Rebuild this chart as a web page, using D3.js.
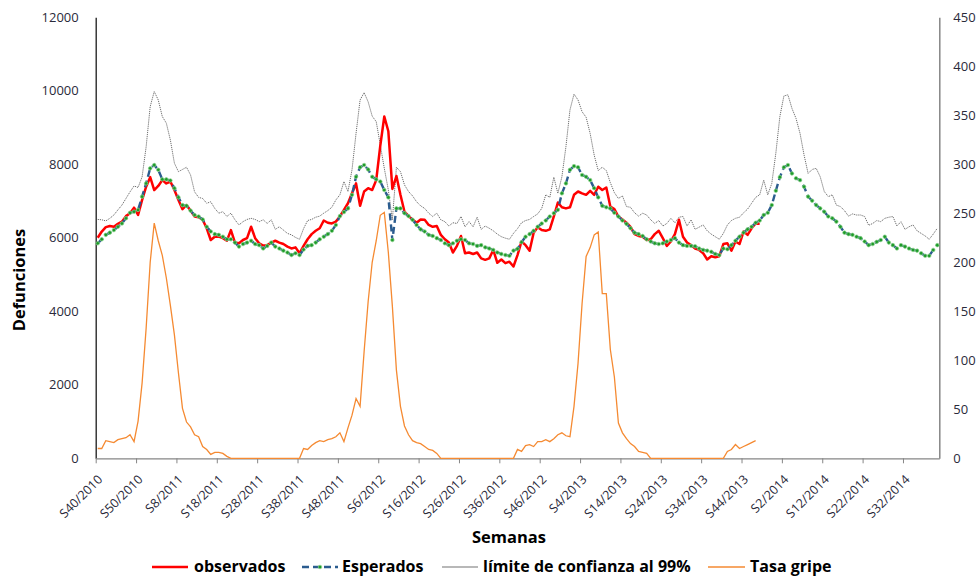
<!DOCTYPE html>
<html>
<head>
<meta charset="utf-8">
<script src="https://cdn.jsdelivr.net/npm/d3@7"></script>
<style>
  body { margin: 0; background: #ffffff; }
  svg { display: block; }
  text { font-family: "Open Sans", Lato, sans-serif; }
</style>
</head>
<body>
<svg id="chart" width="978" height="577"></svg>
<script>
// Weekly categories: S40/2010 ... S40/2014 (52-week years)
const weeks = [];
{
  let w = 40, yr = 2010;
  for (let i = 0; i < 209; i++) {
    weeks.push("S" + w + "/" + yr);
    w++;
    if (w > 52) { w = 1; yr++; }
  }
}

const xTickLabels = ["S40/2010","S50/2010","S8/2011","S18/2011","S28/2011","S38/2011","S48/2011",
  "S6/2012","S16/2012","S26/2012","S36/2012","S46/2012","S4/2013","S14/2013","S24/2013",
  "S34/2013","S44/2013","S2/2014","S12/2014","S22/2014","S32/2014"];
const leftTicks = [0, 2000, 4000, 6000, 8000, 10000, 12000];
const rightTicks = [0, 50, 100, 150, 200, 250, 300, 350, 400, 450];

// Defunciones observadas
const observados = [
  6000,6170,6290,6320,6300,6380,6440,6590,6670,6820,
  6620,7030,7390,7650,7300,7410,7570,7480,7530,7300,
  7030,6780,6890,6740,6580,6560,6490,6260,5940,6030,
  6030,5990,5920,6210,5870,5850,5940,5990,6300,5990,
  5850,5790,5800,5870,5920,5870,5830,5760,5710,5740,
  5580,5780,5960,6100,6190,6260,6470,6410,6390,6440,
  6580,6760,6940,7210,7480,6870,7260,7350,7300,7570,
  8500,9300,8900,7330,7680,7170,6710,6590,6500,6410,
  6500,6490,6350,6300,6320,6080,5960,5870,5600,5780,
  6050,5580,5600,5560,5600,5440,5400,5440,5670,5320,
  5410,5310,5350,5220,5530,5900,5800,5650,6140,6290,
  6210,6190,6230,6580,6960,6830,6800,6830,7170,7260,
  7210,7170,7280,7170,7390,7300,7370,6850,6780,6580,
  6500,6410,6300,6100,6050,6030,5940,5960,6100,6190,
  5990,5780,5900,6100,6490,6030,5870,5800,5710,5670,
  5580,5410,5500,5470,5500,5830,5850,5650,5900,5830,
  6170,6080,6260,6390,6380
];

// Defunciones esperadas
const esperados = [
  5850,5960,6080,6140,6210,6300,6390,6530,6680,6710,
  6760,7120,7480,7890,7980,7850,7590,7590,7560,7350,
  7100,6890,6870,6740,6620,6580,6500,6300,6170,6100,
  6080,6030,5960,5960,5870,5760,5830,5870,5920,5830,
  5800,5710,5780,5870,5760,5710,5650,5600,5530,5580,
  5530,5680,5780,5800,5870,5960,6030,6100,6190,6350,
  6590,6700,6800,7170,7660,7920,7980,7860,7660,7590,
  7530,7300,7100,5940,6800,6800,6670,6590,6490,6350,
  6230,6170,6080,6050,5990,5940,5850,5800,5850,5920,
  5960,5940,5850,5830,5780,5800,5740,5710,5670,5600,
  5560,5530,5510,5650,5700,5880,6030,6100,6190,6300,
  6390,6470,6580,6670,6760,7210,7480,7850,7950,7920,
  7710,7660,7570,7350,7100,6870,6830,6800,6680,6580,
  6470,6380,6260,6140,6100,6050,5960,5900,5850,5830,
  5850,5900,5940,5990,5870,5800,5780,5780,5770,5710,
  5670,5650,5620,5560,5530,5710,5690,5800,5920,6030,
  6140,6230,6300,6410,6470,6620,6680,6890,7280,7650,
  7920,7980,7750,7620,7570,7390,7120,7010,6890,6800,
  6710,6580,6530,6440,6300,6140,6100,6080,6030,5990,
  5900,5800,5830,5890,5940,6030,5870,5800,5710,5800,
  5760,5710,5670,5650,5580,5510,5510,5670,5800
];

// Límite superior de confianza al 99%
const limite99 = [
  6500,6490,6460,6530,6620,6760,6890,7070,7250,7410,
  7370,7660,8480,9570,9980,9750,9300,9120,8660,8030,
  7800,7860,7920,7710,7250,7100,7070,6940,6980,6800,
  6670,6710,6580,6670,6490,6350,6440,6500,6530,6500,
  6440,6490,6390,6490,6230,6300,6210,6120,6080,6010,
  5960,6250,6470,6500,6560,6590,6670,6740,6830,7030,
  7170,7530,7260,7850,8840,9750,9950,9700,9310,9160,
  8530,7890,7300,6490,7920,7800,7440,7260,7140,6980,
  6870,6800,6670,6580,6670,6490,6440,6320,6410,6390,
  6580,6300,6440,6300,6560,6230,6320,6260,6190,6100,
  6030,5990,5960,6120,6250,6410,6470,6500,6580,6650,
  6800,7170,7100,7650,7210,7660,8480,9480,9910,9750,
  9430,9280,8840,8250,7830,7920,7830,7500,7230,7070,
  7140,6850,6830,6680,6590,6670,6620,6490,6390,6470,
  6320,6390,6530,6410,6560,6580,6320,6490,6230,6290,
  6350,6190,6100,6030,5960,6120,6350,6470,6530,6560,
  6680,6780,6940,7100,7170,7570,7170,7480,8300,9300,
  9860,9890,9520,9250,8840,8250,7750,7860,7890,7660,
  7260,7120,7170,6890,6850,6740,6590,6650,6620,6620,
  6580,6340,6390,6470,6440,6530,6560,6580,6320,6440,
  6230,6300,6350,6190,6120,6050,5960,6100,6260
];

// Tasa de gripe (eje secundario)
const tasaGripe = [
  10,10,18,17,16,19,20,21,24,17,
  38,77,133,200,240,222,207,184,156,126,
  87,51,37,32,24,22,12,9,4,6,
  6,5,2,0,0,0,0,0,0,0,
  0,0,0,0,0,0,0,0,0,0,
  0,10,9,13,16,18,17,19,20,22,
  26,17,31,44,61,53,109,160,200,222,
  248,251,210,155,90,53,33,24,18,16,
  15,12,9,8,5,0,0,0,0,0,
  0,0,0,0,0,0,0,0,0,0,
  0,0,0,0,9,7,13,14,12,17,
  17,19,17,20,24,26,23,22,53,97,
  158,206,215,228,231,168,168,111,83,36,
  26,20,15,12,7,6,5,0,0,0,
  0,0,0,0,0,0,0,0,0,0,
  0,0,0,0,0,0,7,9,14,10,
  12,14,16,18
];

const svg = d3.select("#chart");
const plot = { left: 95.7, right: 939.3, top: 17.3, bottom: 458.3 };

const x = d3.scaleBand().domain(d3.range(weeks.length)).range([plot.left, plot.right]).padding(0);
const cx = i => x(i) + x.bandwidth() / 2;
const xEdge = d3.scaleLinear().domain([0, weeks.length]).range([plot.left, plot.right]);
const yL = d3.scaleLinear().domain([0, 12000]).range([plot.bottom, plot.top]);
const yR = d3.scaleLinear().domain([0, 450]).range([plot.bottom, plot.top]);

// Axes
const gLeft = svg.append("g").attr("transform", `translate(${plot.left},0)`)
  .call(d3.axisLeft(yL).tickValues(leftTicks).tickSize(0).tickPadding(17).tickFormat(d3.format("d")));
gLeft.select(".domain").attr("stroke", "#1a1a1a").attr("stroke-width", 1.3);
gLeft.selectAll("text").attr("font-size", 13).attr("fill", "#2a2a3a");

const gRight = svg.append("g").attr("transform", `translate(${plot.right},0)`)
  .call(d3.axisRight(yR).tickValues(rightTicks).tickSize(0).tickPadding(14));
gRight.select(".domain").attr("stroke", "#868686").attr("stroke-width", 1.5);
gRight.selectAll("text").attr("font-size", 13).attr("fill", "#2a2a3a");

const gBottom = svg.append("g").attr("transform", `translate(0,${plot.bottom})`)
  .call(d3.axisBottom(xEdge).tickValues(d3.range(0, 201, 10)).tickSize(5).tickSizeOuter(0)
    .tickFormat((d, k) => xTickLabels[k]));
gBottom.select(".domain").attr("stroke", "#868686").attr("stroke-width", 1.3);
gBottom.selectAll(".tick line").attr("stroke", "#868686");
gBottom.selectAll("text")
  .attr("font-size", 12.5).attr("fill", "#2a2a3a")
  .attr("text-anchor", "end")
  .attr("x", 0).attr("y", 0).attr("dy", 0)
  .attr("transform", "translate(7,22) rotate(-45)");

// Series lines
const lineL = d3.line().x((d, i) => cx(i)).y(d => yL(d));
const lineR = d3.line().x((d, i) => cx(i)).y(d => yR(d));

svg.append("path").datum(limite99).attr("d", lineL)
  .attr("fill", "none").attr("stroke", "#6e6e6e").attr("stroke-width", 1)
  .attr("stroke-dasharray", "1.2,0.9");

svg.append("path").datum(tasaGripe).attr("d", lineR)
  .attr("fill", "none").attr("stroke", "#F58A32").attr("stroke-width", 1.3);

svg.append("path").datum(observados).attr("d", lineL)
  .attr("fill", "none").attr("stroke", "#FF0000").attr("stroke-width", 2.5)
  .attr("stroke-linejoin", "round");

svg.append("path").datum(esperados).attr("d", lineL)
  .attr("fill", "none").attr("stroke", "#2B5C8F").attr("stroke-width", 2.4)
  .attr("stroke-dasharray", "7,4");

svg.append("g").selectAll("circle").data(esperados).join("circle")
  .attr("cx", (d, i) => cx(i)).attr("cy", d => yL(d)).attr("r", 1.8)
  .attr("fill", "#1E9A2A").attr("stroke", "#8fd68f").attr("stroke-width", 0.7);

// Axis titles
svg.append("text").attr("x", 509).attr("y", 543).attr("text-anchor", "middle")
  .attr("font-size", 16.5).attr("font-weight", "bold").attr("fill", "#000").text("Semanas");
svg.append("text").attr("transform", "translate(25,280) rotate(-90)").attr("text-anchor", "middle")
  .attr("font-size", 16.5).attr("font-weight", "bold").attr("fill", "#000").text("Defunciones");

// Legend
const legY = 567;
const legT = 572;
const leg = svg.append("g").attr("font-size", 16).attr("font-weight", "bold").attr("fill", "#000");
leg.append("line").attr("x1", 152).attr("x2", 188).attr("y1", legY).attr("y2", legY)
  .attr("stroke", "#FF0000").attr("stroke-width", 2.5);
leg.append("text").attr("x", 194).attr("y", legT).text("observados");
leg.append("line").attr("x1", 302).attr("x2", 338).attr("y1", legY).attr("y2", legY)
  .attr("stroke", "#2B5C8F").attr("stroke-width", 2.4).attr("stroke-dasharray", "7,4");
leg.append("circle").attr("cx", 320).attr("cy", legY).attr("r", 1.8)
  .attr("fill", "#1E9A2A").attr("stroke", "#8fd68f").attr("stroke-width", 0.7);
leg.append("text").attr("x", 342).attr("y", legT).text("Esperados");
leg.append("line").attr("x1", 442).attr("x2", 478).attr("y1", legY).attr("y2", legY)
  .attr("stroke", "#a0a0a0").attr("stroke-width", 1.5);
leg.append("text").attr("x", 483).attr("y", legT).text("límite de confianza al 99%");
leg.append("line").attr("x1", 708).attr("x2", 745).attr("y1", legY).attr("y2", legY)
  .attr("stroke", "#F58A32").attr("stroke-width", 1.5);
leg.append("text").attr("x", 750).attr("y", legT).text("Tasa gripe");
</script>
</body>
</html>
